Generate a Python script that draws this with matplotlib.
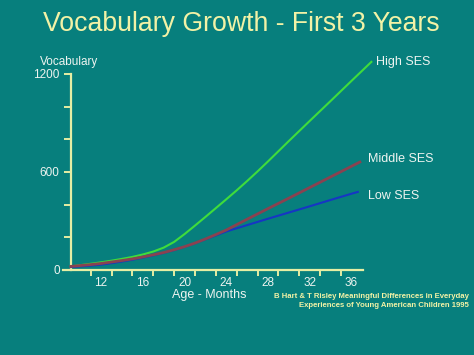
import matplotlib
matplotlib.use("Agg")
import matplotlib.pyplot as plt
from matplotlib.ticker import FixedLocator

plt.rcParams['font.family'] = ['Liberation Sans', 'DejaVu Sans']

# Data
high_months = [9.1, 11, 12, 13, 14, 15, 16, 17, 18, 19, 20, 21, 22, 23, 24, 25, 26, 27, 28, 30, 32, 34, 36, 37.9]
high_vocab = [22, 38, 47, 57, 68, 80, 95, 113, 137, 172, 220, 272, 325, 379, 433, 488, 545, 604, 665, 790, 913, 1035, 1158, 1274]

mid_months = [9.1, 11, 12, 13, 14, 15, 16, 17, 18, 19, 20, 21, 22, 23, 24, 26, 28, 30, 32, 34, 36, 36.8]
mid_vocab = [22, 33, 40, 49, 58, 68, 80, 93, 107, 124, 143, 165, 190, 217, 245, 311, 376, 440, 505, 570, 635, 661]

low_months = [9.1, 11, 12, 13, 14, 15, 16, 17, 18, 19, 20, 21, 22, 23, 24, 26, 28, 30, 32, 34, 36, 36.6]
low_vocab = [18, 27, 33, 42, 52, 63, 76, 90, 105, 122, 142, 164, 188, 212, 236, 275, 314, 352, 390, 429, 467, 478]

series_names = ["High SES", "Middle SES", "Low SES"]
x_tick_labels = [12, 16, 20, 24, 28, 32, 36]
x_minor_ticks = [11, 13, 15, 17, 19, 21, 23, 25, 27, 29, 31, 33, 35]
y_tick_labels = [0, 600, 1200]
y_minor_ticks = [200, 400, 800, 1000]

BG = "#077f7d"
AXC = "#e6eea4"
TXT = "#eef4f0"
YEL = "#f2f2a6"

W, H = 474, 355
fig = plt.figure(figsize=(W / 100, H / 100), dpi=100, facecolor=BG)

x0, x1 = 63, 363
y0, y1 = 270, 74
ax = fig.add_axes([x0 / W, 1 - y0 / H, (x1 - x0) / W, (y0 - y1) / H])
ax.set_facecolor(BG)
ax.set_xlim(8.35, 37.1)
ax.set_ylim(0, 1200)

for s in ["top", "right"]:
    ax.spines[s].set_visible(False)
ax.spines["left"].set_position(("data", 9.1))
for s in ["left", "bottom"]:
    ax.spines[s].set_color(AXC)
    ax.spines[s].set_linewidth(1.6)

ax.plot(high_months, high_vocab, color="#3fdc3c", lw=1.5, clip_on=False, zorder=3,
        solid_joinstyle="round")
ax.plot(low_months, low_vocab, color="#1636c4", lw=1.5, clip_on=False, zorder=3,
        solid_joinstyle="round")
ax.plot(mid_months, mid_vocab, color="#8a4250", lw=2.0, clip_on=False, zorder=4,
        solid_joinstyle="round")

# x ticks
ax.xaxis.set_major_locator(FixedLocator(x_tick_labels))
ax.set_xticklabels([str(v) for v in x_tick_labels])
ax.xaxis.set_minor_locator(FixedLocator(x_minor_ticks))
ax.tick_params(axis="x", which="major", length=0, pad=5, labelsize=8.5, labelcolor=TXT)
ax.tick_params(axis="x", which="minor", length=4, width=1.4, color=AXC, direction="out")

# y ticks
ax.yaxis.set_major_locator(FixedLocator(y_tick_labels))
ax.set_yticklabels([str(v) for v in y_tick_labels])
ax.yaxis.set_minor_locator(FixedLocator(y_minor_ticks))
ax.tick_params(axis="y", which="major", length=5, width=1.4, color=AXC, pad=3,
               labelsize=8.5, labelcolor=TXT)
ax.tick_params(axis="y", which="minor", length=5, width=1.4, color=AXC)

# texts
fig.text(241 / W, 1 - 24 / H, "Vocabulary Growth - First 3 Years", ha="center", va="center",
         fontsize=19.2, color=YEL)
fig.text(69 / W, 1 - 62 / H, "Vocabulary", ha="center", va="center", fontsize=8.5, color=TXT)
fig.text(209 / W, 1 - 295 / H, "Age - Months", ha="center", va="center", fontsize=9, color=TXT)

label_pos = [(376, 62), (368, 159), (368, 196)]
for name, (px, py) in zip(series_names, label_pos):
    fig.text(px / W, 1 - py / H, name, ha="left", va="center", fontsize=9, color=TXT)

fig.text(469 / W, 1 - 296 / H, "B Hart & T Risley Meaningful Differences in Everyday",
         ha="right", va="center", fontsize=5.6, fontweight="bold", color=YEL)
fig.text(469 / W, 1 - 305.5 / H, "Experiences of Young American Children 1995",
         ha="right", va="center", fontsize=5.6, fontweight="bold", color=YEL)

fig.savefig("out.png", dpi=100, facecolor=BG)
